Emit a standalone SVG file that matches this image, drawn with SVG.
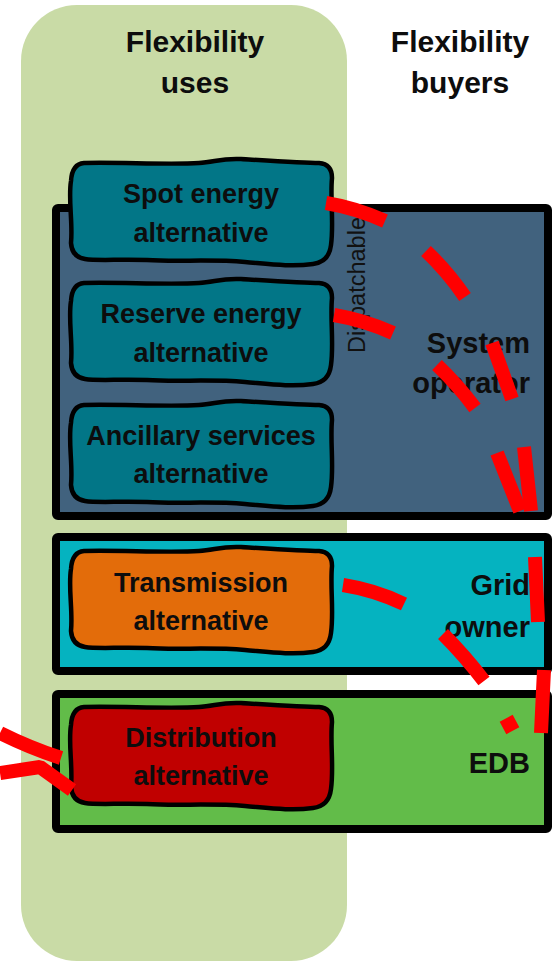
<svg xmlns="http://www.w3.org/2000/svg" xmlns:xlink="http://www.w3.org/1999/xlink" width="554" height="962" viewBox="0 0 554 962">
  <style>
    .title { font-family: "Liberation Sans", Arial, sans-serif; font-weight: bold; font-size: 30px; fill: #0d0d0d; text-anchor: middle; }
    .buyer { font-family: "Liberation Sans", Arial, sans-serif; font-weight: bold; font-size: 29px; fill: #0d0d0d; text-anchor: end; }
    .label { font-family: "Liberation Sans", Arial, sans-serif; font-weight: bold; font-size: 27px; fill: #0d0d0d; text-anchor: middle; }
    .note  { font-family: "Liberation Sans", Arial, sans-serif; font-size: 23px; fill: #111111; }
    .band  { stroke: #000000; stroke-width: 8; stroke-linejoin: round; }
    .blob  { stroke: #000000; stroke-width: 4.5; stroke-linejoin: round; }
    .flow  { fill: none; stroke: #ff0000; stroke-width: 14; stroke-linecap: butt; stroke-linejoin: bevel; }
  </style>
  <defs>
    <!-- hand-drawn rounded box outline, 263 x 103 -->
    <path id="blob" d="M15,2 C50,1 100,4 130,2 C146,1 152,-3 172,-2 C205,0 236,2 250,2 Q263,3 263,17 C261,38 265,62 262,84 Q260,101 244,103 C222,106 200,103 176,101 C142,98 108,101 78,99 C50,98 28,100 16,98 Q3,96 2,82 C4,62 -1,38 2,20 Q3,3 15,2 Z"/>
  </defs>

  <!-- flexibility uses column -->
  <rect id="uses-column" x="21" y="5" width="326" height="956" rx="56" ry="56" fill="#c9dba6"/>

  <g id="titles">
    <text class="title" x="195" y="52">Flexibility</text>
    <text class="title" x="195" y="93">uses</text>
    <text class="title" x="460" y="52">Flexibility</text>
    <text class="title" x="460" y="93">buyers</text>
  </g>

  <!-- buyer bands -->
  <g id="system-operator">
    <rect class="band" x="56" y="208" width="492" height="308" rx="2" fill="#41627e"/>
    <text class="buyer" x="530" y="353">System</text>
    <text class="buyer" x="530" y="393">operator</text>
  </g>
  <g id="grid-owner">
    <rect class="band" x="56" y="537" width="492" height="134" rx="2" fill="#05b3c0"/>
    <text class="buyer" x="530" y="595">Grid</text>
    <text class="buyer" x="530" y="637">owner</text>
  </g>
  <g id="edb">
    <rect class="band" x="56" y="694" width="492" height="135" rx="2" fill="#62bc49"/>
    <text class="buyer" x="530" y="773">EDB</text>
  </g>

  <text id="dispatchable" class="note" transform="translate(365,353) rotate(-90)" x="0" y="0" textLength="136" lengthAdjust="spacingAndGlyphs">Dispatchable</text>

  <!-- flexibility uses -->
  <g id="spot-energy">
    <use xlink:href="#blob" href="#blob" class="blob" x="69" y="161" fill="#027687"/>
    <text class="label" x="201" y="203">Spot energy</text>
    <text class="label" x="201" y="242">alternative</text>
  </g>
  <g id="reserve-energy">
    <use xlink:href="#blob" href="#blob" class="blob" x="69" y="281" fill="#027687"/>
    <text class="label" x="201" y="323">Reserve energy</text>
    <text class="label" x="201" y="362">alternative</text>
  </g>
  <g id="ancillary-services">
    <use xlink:href="#blob" href="#blob" class="blob" x="69" y="403" fill="#027687"/>
    <text class="label" x="201" y="445">Ancillary services</text>
    <text class="label" x="201" y="483">alternative</text>
  </g>
  <g id="transmission">
    <use xlink:href="#blob" href="#blob" class="blob" x="69" y="549" fill="#e36c0a"/>
    <text class="label" x="201" y="592">Transmission</text>
    <text class="label" x="201" y="630">alternative</text>
  </g>
  <g id="distribution">
    <use xlink:href="#blob" href="#blob" class="blob" x="69" y="705" fill="#c00000"/>
    <text class="label" x="201" y="747">Distribution</text>
    <text class="label" x="201" y="785">alternative</text>
  </g>

  <!-- red dashed links -->
  <g id="connectors">
    <path id="link-spot" class="flow" d="M326,203 Q356,208 385,221 M426,251 Q448,272 465,297 M492,343 L512,399 M524,447 L531,511 M535,557 L538,622 M544,670 L541,733"/>
    <path id="link-reserve" class="flow" d="M334,315 Q364,320 393,333 M437,365 Q458,385 475,408 M497,453 L520,511"/>
    <path id="link-transmission" class="flow" d="M343,585 Q375,590 404,604 M443,634 Q465,656 484,681 M503,728 L516,721"/>
    <path id="link-distribution" class="flow" d="M61,758 Q30,748 0,733 M0,773 L40,767 L72,790" stroke-width="18"/>
  </g>
</svg>
